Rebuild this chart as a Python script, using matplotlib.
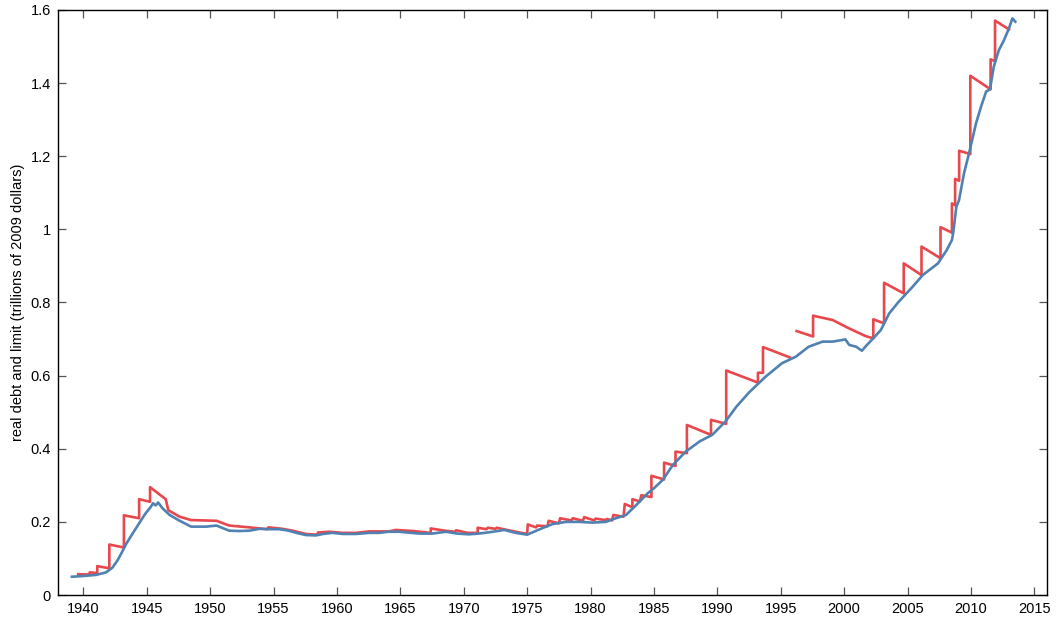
import numpy as np
import matplotlib.pyplot as plt
from matplotlib.ticker import FormatStrFormatter

plt.rcParams['font.family'] = ['Liberation Sans', 'DejaVu Sans']

# ---- real debt (blue) ----
debt_year = [1939.1, 1940.0, 1941.0, 1941.8, 1942.3, 1942.7, 1943.0, 1943.4, 1943.9, 1944.4,
             1944.9, 1945.3, 1945.5, 1945.7, 1945.9, 1946.25, 1946.8, 1947.6, 1948.5, 1949.7,
             1950.5, 1951.5, 1952.3, 1953.1, 1953.9, 1954.7, 1955.45, 1956.2, 1956.8, 1957.55,
             1958.35, 1958.9, 1959.65, 1960.45, 1961.5, 1962.55, 1963.3, 1964.1, 1964.9, 1966.5,
             1967.5, 1968.6, 1969.5, 1970.4, 1971.2, 1972.3, 1973.2, 1974.1, 1975.0, 1976.0,
             1977.0, 1978.05, 1979.1, 1980.15, 1981.2, 1982.0, 1982.8, 1983.6, 1984.5, 1985.0,
             1985.7, 1986.5, 1987.5, 1988.6, 1989.6, 1990.65, 1991.5, 1992.5, 1993.8, 1995.1,
             1996.2, 1997.2, 1998.3, 1999.1, 2000.1, 2000.4, 2000.95, 2001.4, 2001.8, 2002.3,
             2002.9, 2003.55, 2004.3, 2005.4, 2006.2, 2007.4, 2008.1, 2008.5, 2008.6, 2008.85,
             2009.06, 2009.45, 2009.85, 2010.4, 2010.8, 2011.2, 2011.5, 2011.8, 2012.2, 2012.6,
             2013.0, 2013.27, 2013.5]
debt_val = [0.050, 0.052, 0.055, 0.062, 0.075, 0.095, 0.114, 0.141, 0.169, 0.196,
            0.223, 0.240, 0.251, 0.245, 0.253, 0.237, 0.219, 0.203, 0.187, 0.187,
            0.190, 0.176, 0.175, 0.176, 0.181, 0.180, 0.180, 0.176, 0.170, 0.164,
            0.163, 0.167, 0.170, 0.167, 0.167, 0.170, 0.170, 0.173, 0.173, 0.168,
            0.168, 0.173, 0.168, 0.166, 0.168, 0.173, 0.178, 0.170, 0.165, 0.180,
            0.194, 0.200, 0.200, 0.198, 0.200, 0.210, 0.219, 0.246, 0.278, 0.292,
            0.315, 0.356, 0.392, 0.420, 0.438, 0.475, 0.515, 0.554, 0.597, 0.634,
            0.652, 0.679, 0.693, 0.693, 0.699, 0.684, 0.679, 0.668, 0.684, 0.702,
            0.725, 0.770, 0.802, 0.843, 0.875, 0.907, 0.944, 0.971, 0.990, 1.062,
            1.080, 1.153, 1.208, 1.290, 1.336, 1.377, 1.383, 1.445, 1.490, 1.517,
            1.550, 1.577, 1.568]

# ---- real debt limit (red), nan = gap in the series ----
limit_year = [1939.6, 1940.5, 1940.5, 1941.1, 1941.1, 1942.05, 1942.05, 1943.2, 1943.2, 1944.4,
              1944.4, 1945.26, 1945.26, 1946.5, 1946.7, 1947.6, 1948.5, 1950.5, 1951.5, 1953.1,
              1954.5, 1954.6, 1955.7, 1956.5, 1957.55, 1958.5, 1958.5, 1959.4, 1960.45, 1961.5,
              1962.55, 1964.1, 1964.65, 1966.0, 1967.4, 1967.4, 1968.5, 1969.3, 1969.4, 1970.3,
              1971.1, 1971.1, 1971.8, 1971.9, 1972.5, 1972.6, 1974.1, 1975.0, 1975.05, 1975.7,
              1975.8, 1976.6, 1976.7, 1977.5, 1977.6, 1978.5, 1978.6, 1979.4, 1979.5, 1980.3,
              1980.4, 1981.2, 1981.3, 1981.7, 1981.8, 1982.6, 1982.7, 1983.3, 1983.3, 1983.9,
              1984.0, 1984.8, 1984.8, 1985.8, 1985.8, 1986.7, 1986.7, 1987.6, 1987.6, 1989.5,
              1989.5, 1990.7, 1990.7, 1993.2, 1993.2, 1993.6, 1993.6, 1995.7, 1996.0, 1996.25,
              1997.55, 1997.55, 1999.1, 2000.4, 2001.7, 2002.3, 2002.3, 2003.15, 2003.15, 2004.7,
              2004.7, 2006.1, 2006.1, 2007.6, 2007.6, 2008.5, 2008.5, 2008.75, 2008.75, 2009.07,
              2009.07, 2009.95, 2009.95, 2011.55, 2011.55, 2011.9, 2011.9, 2013.0]
limit_val = [0.057, 0.056, 0.062, 0.060, 0.079, 0.073, 0.138, 0.130, 0.218, 0.210,
             0.262, 0.255, 0.295, 0.262, 0.232, 0.214, 0.205, 0.203, 0.190, 0.185,
             0.180, 0.185, 0.181, 0.176, 0.167, 0.165, 0.171, 0.173, 0.170, 0.170,
             0.174, 0.174, 0.178, 0.175, 0.170, 0.182, 0.176, 0.173, 0.177, 0.170,
             0.170, 0.184, 0.180, 0.184, 0.181, 0.184, 0.173, 0.167, 0.193, 0.185,
             0.190, 0.188, 0.203, 0.196, 0.210, 0.204, 0.210, 0.203, 0.213, 0.204,
             0.209, 0.205, 0.208, 0.204, 0.219, 0.214, 0.249, 0.240, 0.262, 0.256,
             0.273, 0.268, 0.326, 0.316, 0.362, 0.353, 0.392, 0.388, 0.465, 0.438,
             0.479, 0.468, 0.614, 0.581, 0.608, 0.608, 0.678, 0.650, np.nan, 0.722,
             0.707, 0.764, 0.752, 0.729, 0.708, 0.702, 0.754, 0.743, 0.854, 0.825,
             0.907, 0.875, 0.953, 0.921, 1.006, 0.991, 1.071, 1.066, 1.138, 1.133,
             1.215, 1.206, 1.420, 1.383, 1.465, 1.460, 1.571, 1.547]

x_ticks = [1940, 1945, 1950, 1955, 1960, 1965, 1970, 1975, 1980, 1985, 1990, 1995,
           2000, 2005, 2010, 2015]
y_ticks = [0, 0.2, 0.4, 0.6, 0.8, 1.0, 1.2, 1.4, 1.6]

fig = plt.figure(figsize=(10.56, 6.2), dpi=100)
ax = fig.add_axes([0.0549, 0.0403, 0.9366, 0.9436])

ax.plot(limit_year, limit_val, color='#e8474c', lw=1.9)
ax.plot(debt_year, debt_val, color='#4f82b2', lw=1.9)

ax.set_xlim(1938, 2016)
ax.set_ylim(0, 1.6)
ax.set_xticks(x_ticks)
ax.set_yticks(y_ticks)
ax.yaxis.set_major_formatter(FormatStrFormatter('%g'))
ax.tick_params(direction='in', length=6, width=0.9, color='#555555',
               top=True, right=True, labelsize=10.5, labelcolor='black', pad=5)
for s in ax.spines.values():
    s.set_linewidth(1.0)
ax.set_ylabel('real debt and limit (trillions of 2009 dollars)', fontsize=10.5, labelpad=4)

fig.savefig('out.png', dpi=100)
